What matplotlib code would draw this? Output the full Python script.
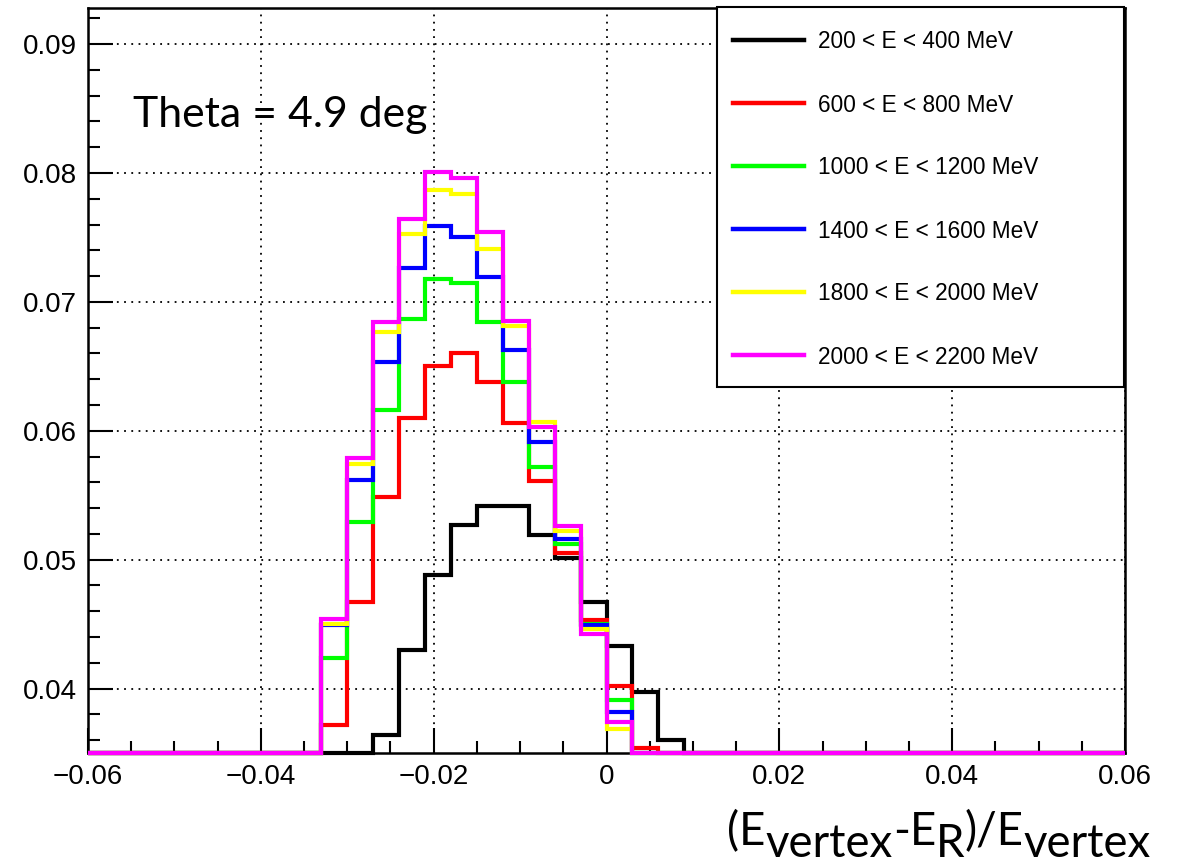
import numpy as np
import matplotlib
matplotlib.use('Agg')
import matplotlib.pyplot as plt
from matplotlib.lines import Line2D
from matplotlib.patches import Rectangle
from matplotlib.ticker import MultipleLocator

# 40 bins from -0.06 to 0.06, the filled bins run from -0.033 to 0.012
edges = np.linspace(-0.06, 0.06, 41)
first_bin = 9

labels = ['200 < E < 400 MeV', '600 < E < 800 MeV', '1000 < E < 1200 MeV',
          '1400 < E < 1600 MeV', '1800 < E < 2000 MeV', '2000 < E < 2200 MeV']
colors = ['#000000', '#ff0000', '#00ff00', '#0000ff', '#ffff00', '#ff00ff']

e200 = [0, 0, 0.0364, 0.0430, 0.0488, 0.0527, 0.0542, 0.0542, 0.0519, 0.0501, 0.0467, 0.0433, 0.0397, 0.0360, 0]
e600 = [0.0372, 0.0467, 0.0549, 0.0610, 0.0650, 0.0660, 0.0638, 0.0606, 0.0561, 0.0505, 0.0453, 0.0402, 0.0354, 0, 0]
e1000 = [0.0424, 0.0529, 0.0616, 0.0687, 0.0718, 0.0715, 0.0684, 0.0638, 0.0572, 0.0512, 0.0450, 0.0391, 0, 0, 0]
e1400 = [0.0449, 0.0562, 0.0653, 0.0726, 0.0759, 0.0750, 0.0719, 0.0663, 0.0591, 0.0516, 0.0449, 0.0382, 0, 0, 0]
e1800 = [0.0450, 0.0574, 0.0677, 0.0753, 0.0787, 0.0784, 0.0741, 0.0681, 0.0607, 0.0522, 0.0446, 0.0369, 0, 0, 0]
e2000 = [0.0454, 0.0579, 0.0684, 0.0764, 0.0801, 0.0796, 0.0754, 0.0685, 0.0603, 0.0526, 0.0442, 0.0374, 0, 0, 0]
series = [e200, e600, e1000, e1400, e1800, e2000]

ymin, ymax = 0.035, 0.0928
W, H = 1185, 864

fig = plt.figure(figsize=(W / 100, H / 100), dpi=100)
ax = fig.add_axes([88 / W, 1 - 753 / H, (1125 - 88) / W, (753 - 8) / H])

for vals, c in zip(series, colors):
    full = np.zeros(len(edges) - 1)
    full[first_bin:first_bin + len(vals)] = vals
    # ROOT draws empty bins along the lower frame
    ax.stairs(np.maximum(full, ymin), edges, color=c, lw=3, baseline=None, clip_on=False, zorder=3)

ax.set_xlim(-0.06, 0.06)
ax.set_ylim(ymin, ymax)
ax.xaxis.set_minor_locator(MultipleLocator(0.005))
ax.yaxis.set_minor_locator(MultipleLocator(0.002))
ax.set_xticks([-0.06, -0.04, -0.02, 0, 0.02, 0.04, 0.06])
ax.set_xticklabels(['\u22120.06', '\u22120.04', '\u22120.02', '0', '0.02', '0.04', '0.06'])
ax.set_yticks([0.04, 0.05, 0.06, 0.07, 0.08, 0.09])
ax.set_yticklabels(['0.04', '0.05', '0.06', '0.07', '0.08', '0.09'])
ax.tick_params(which='major', direction='in', length=18, width=1.5, labelsize=20, pad=8)
ax.tick_params(which='minor', direction='in', length=8.5, width=1.5)
for lab in ax.get_xticklabels() + ax.get_yticklabels():
    lab.set_family('Liberation Sans')
ax.grid(True, which='major', color='black', ls=(0, (1, 3)), lw=1.3)
for s in ax.spines.values():
    s.set_linewidth(1.8)

# legend box, drawn in figure pixels
fig.patches.append(Rectangle((717 / W, 1 - 387 / H), (1124 - 717) / W, (387 - 7) / H,
                             transform=fig.transFigure, facecolor='white', edgecolor='black',
                             lw=1.5, zorder=5))
rows = [40, 103, 166, 229, 292, 355]
for y, c, lab in zip(rows, colors, labels):
    fig.lines.append(Line2D([733 / W, 804 / W], [1 - y / H, 1 - y / H], transform=fig.transFigure,
                            color=c, lw=3.2, zorder=6))
    fig.text(818 / W, 1 - (y + 2) / H, lab, fontsize=16.3, family='Liberation Sans',
             va='center', ha='left', zorder=6)

fig.text(133 / W, 1 - 127 / H, 'Theta = 4.9 deg', fontsize=30.8, family='Lato',
         va='baseline', ha='left')

# axis title pasted in the bottom right, subscripts kept large and just lowered
renderer = fig.canvas.get_renderer()
pieces = [('(E', 0), ('vertex', 12), ('-E', 0), ('R', 12), (')/E', 0), ('vertex', 12)]
x = 727
for s, dy in pieces:
    t = fig.text(x / W, 1 - (845 + dy) / H, s, fontsize=32.9, family='Lato',
                 va='baseline', ha='left')
    x += t.get_window_extent(renderer).width

fig.savefig('out.png', dpi=100)
